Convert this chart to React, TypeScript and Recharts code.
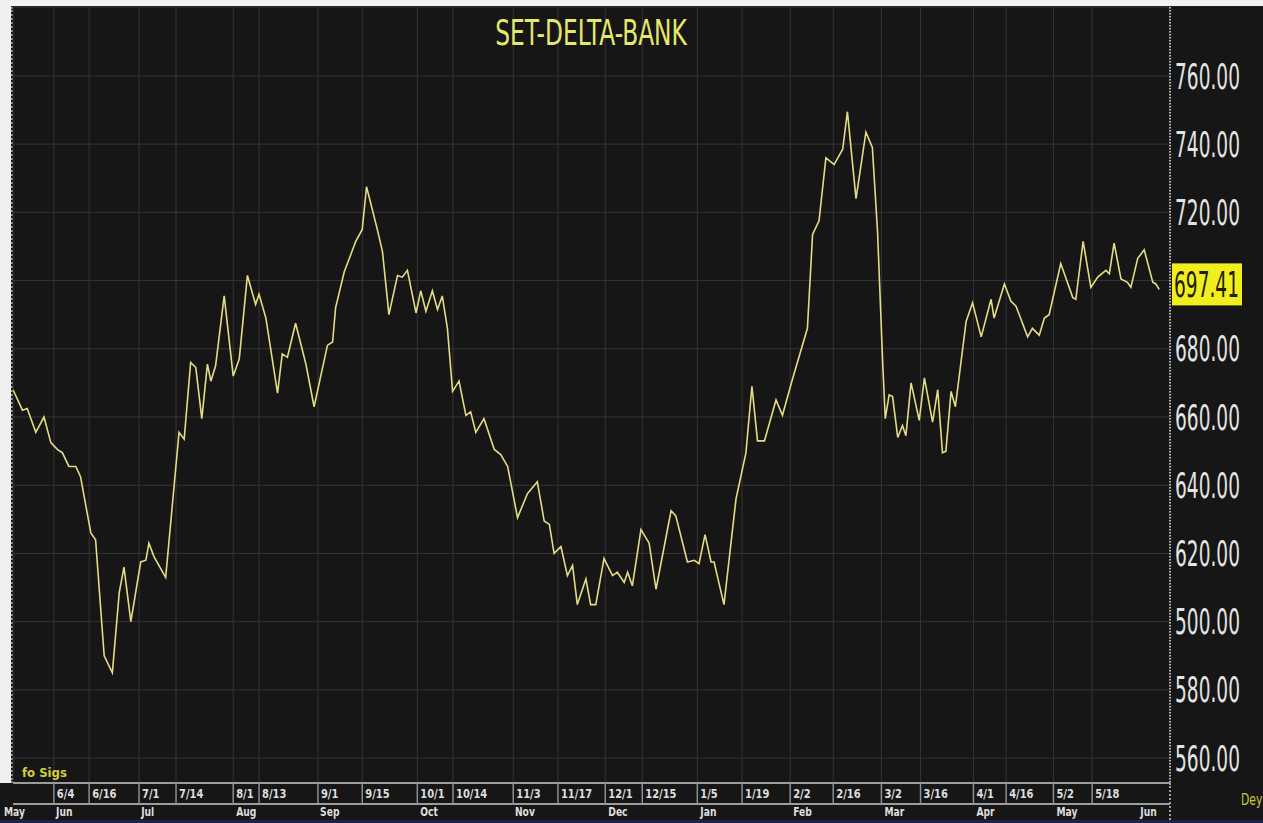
import { LineChart, Line, XAxis, YAxis, CartesianGrid, ReferenceDot } from 'recharts';

// trading-day index (from the left edge) and close
const DAYS = [
  0, 2.2, 3.3, 5.3, 7.2, 8.8, 10.3, 11.5, 13.0, 14.6, 15.7, 18.1, 19.2, 21.2, 23.1, 24.7, 25.8, 27.4, 29.7, 30.9,
  31.6, 32.8, 35.5, 38.6, 39.8, 41.3, 42.5, 43.9, 45.2, 46.0, 47.1, 49.1, 51.2, 52.6, 54.5, 56.4, 57.2, 58.8, 61.5, 62.6,
  63.8, 65.7, 68.1, 70.0, 73.1, 74.3, 75.0, 77.0, 79.7, 81.2, 82.2, 84.7, 85.9, 87.4, 89.4, 90.5, 91.7, 93.7, 94.8, 96.0,
  97.5, 98.7, 99.8, 101.0, 102.2, 103.7, 105.3, 106.4, 107.6, 109.5, 111.9, 113.4, 115.0, 117.3, 119.6, 121.9, 123.5, 124.7, 125.8, 127.4,
  128.9, 130.1, 131.2, 133.2, 134.3, 135.5, 137.4, 139.4, 140.5, 142.1, 142.9, 144.0, 146.0, 147.9, 149.5, 153.0, 154.1, 156.8, 158.4, 159.5,
  160.9, 162.3, 163.0, 165.3, 168.1, 170.4, 171.8, 173.1, 174.7, 177.4, 178.9, 181.2, 184.7, 185.9, 187.4, 189.0, 190.9, 192.9, 194.0, 196.0,
  198.3, 199.8, 201.0, 202.2, 202.8, 203.7, 204.5, 205.7, 206.8, 207.6, 208.8, 210.7, 211.9, 213.8, 215.0, 216.1, 216.9, 218.1, 219.1, 221.6,
  223.1, 225.1, 227.4, 228.1, 230.5, 232.0, 233.2, 235.9, 237.0, 238.6, 239.8, 240.9, 243.6, 246.4, 247.1, 248.8, 250.6, 252.2, 254.1, 254.9,
  256.0, 257.6, 259.1, 259.9, 261.5, 263.0, 265.0, 265.7, 266.5,
];
const CLOSE = [
  668, 662, 662.5, 655.5, 660, 652.5, 650.5, 649.5, 645.5, 645.5, 642.5, 626, 624, 590, 585, 608.5, 616, 600, 617.5, 618,
  623, 619, 613, 655.5, 653.5, 676, 674.5, 659.5, 675.5, 670.5, 675, 695.5, 672, 677, 701.5, 693, 696, 689, 667, 678.5,
  677.5, 687.5, 675.5, 663, 681, 682, 692, 702.5, 711.5, 715, 727.5, 715, 708.5, 690, 701.5, 701, 703, 690.5, 697, 691,
  697, 691.5, 695.5, 686, 667.5, 670.5, 660.5, 661.5, 655.5, 659.5, 650.5, 649, 645.5, 630.5, 637.5, 641, 629.5, 628.5, 620, 622,
  613.5, 616.5, 605, 612.5, 605, 605, 618.5, 613.5, 614.5, 611.5, 614.5, 610.5, 627, 623, 609.5, 632.5, 631, 617.5, 618, 617,
  625.5, 617.5, 617.5, 605, 636, 649.5, 669, 653, 653, 665, 660.5, 671, 686, 713.5, 717.5, 736, 734, 738.5, 749.5, 724,
  743.5, 739, 714.5, 676, 659.5, 666.5, 666, 654, 657.5, 654.5, 670, 659, 671.5, 658.5, 668, 649.5, 650, 667.5, 663, 688,
  693.5, 683.5, 694.5, 689, 699, 694, 692.5, 683.5, 686, 684, 689, 690, 705, 695, 694.5, 711.5, 698, 701, 703, 702,
  711, 700.5, 699.5, 698, 706.5, 709, 699.5, 699, 697.41,
];
const LAST_CLOSE = 697.41;
const X_END = 269;

const TICK_DAYS = [
  9.5, 17.7, 29.3, 37.9, 51.2, 57.2, 70.9, 81.2, 94.0, 102.3, 116.3, 126.7,
  137.7, 146.3, 159.1, 169.5, 180.7, 190.7, 201.9, 211.0, 223.3, 230.9, 241.9, 250.9,
];
const TICK_LABELS = [
  '6/4', '6/16', '7/1', '7/14', '8/1', '8/13', '9/1', '9/15', '10/1', '10/14', '11/3', '11/17',
  '12/1', '12/15', '1/5', '1/19', '2/2', '2/16', '3/2', '3/16', '4/1', '4/16', '5/2', '5/18',
];
const MONTH_DAYS = [0, 9.3, 29.1, 51.2, 70.7, 94.0, 116.0, 137.7, 159.1, 180.7, 201.9, 223.3, 241.9, 261.4];
const MONTH_LABELS = ['May', 'Jun', 'Jul', 'Aug', 'Sep', 'Oct', 'Nov', 'Dec', 'Jan', 'Feb', 'Mar', 'Apr', 'May', 'Jun'];

const PRICE_TICKS = [560, 580, 600, 620, 640, 660, 680, 700, 720, 740, 760];
const PRICE_LABELS = ['560.00', '580.00', '500.00', '620.00', '640.00', '660.00', '680.00', '', '720.00', '740.00', '760.00'];

const data = DAYS.map((d, i) => ({ d, close: CLOSE[i] }));

const NARROW = "'Liberation Sans Narrow', 'DejaVu Sans Condensed', Arial, sans-serif";
const LINE = '#e4dc82';
const GRID = '#353535';

function DateTick({ x, y, index }: any) {
  return (
    <g>
      <line x1={x} x2={x} y1={y} y2={y + 21} stroke="#8e8e8e" strokeWidth={1.5} />
      <text
        transform={`translate(${x + 3},${y + 15}) scale(0.85,1)`}
        fontFamily={NARROW}
        fontSize={13}
        fontWeight="bold"
        fill="#dedede"
      >
        {TICK_LABELS[index]}
      </text>
    </g>
  );
}

function MonthTick({ x, y, index }: any) {
  const tx = index === 0 ? x - 9 : x + 3;
  return (
    <text
      transform={`translate(${tx},${y + 12}) scale(0.85,1)`}
      fontFamily={NARROW}
      fontSize={12}
      fontWeight="bold"
      fill="#dedede"
    >
      {MONTH_LABELS[index]}
    </text>
  );
}

// tall, condensed price labels: small font stretched vertically, fixed width
function PriceText({ x, y, label, fill }: any) {
  return (
    <text
      transform={`translate(${x},${y}) scale(1,1.4)`}
      dy="0.36em"
      textLength={65}
      lengthAdjust="spacingAndGlyphs"
      fontFamily={NARROW}
      fontSize={25}
      fill={fill}
    >
      {label}
    </text>
  );
}

function PriceTick({ x, y, index }: any) {
  const label = PRICE_LABELS[index];
  if (!label) return null;
  return <PriceText x={x} y={y} label={label} fill="#e4e4e4" />;
}

function LastTag({ cx, cy }: any) {
  return (
    <g>
      <rect x={cx + 2} y={cy - 26} width={70} height={42} fill="#f2ee1e" />
      <PriceText x={cx + 4} y={cy - 5} label={LAST_CLOSE.toFixed(2)} fill="#1e1e00" />
    </g>
  );
}

const abs = (s: any): any => ({ position: 'absolute', ...s });

export default function App() {
  return (
    <div style={abs({ left: 0, top: 0, width: 1263, height: 823, background: '#161616', overflow: 'hidden' })}>
      <div style={abs({ left: 0, top: 0, width: 1263, height: 6, background: '#f2f2f2' })} />
      <div style={abs({ left: 0, top: 6, width: 1263, height: 1, background: '#1c2340' })} />
      <div style={abs({ left: 0, top: 0, width: 11, height: 783, background: '#efefef' })} />
      <div style={abs({ left: 11, top: 7, height: 776, borderLeft: '2px dotted #a0a0a0' })} />
      <div style={abs({ left: 1169, top: 783, height: 40, borderLeft: '2px dotted #a0a0a0' })} />
      <div style={abs({ left: 0, top: 820, width: 1263, height: 3, background: '#1b2150' })} />

      <LineChart
        width={1263}
        height={823}
        data={data}
        margin={{ top: 7, right: 0, bottom: 3, left: 13 }}
        style={{ position: 'absolute', left: 0, top: 0 }}
      >
        <CartesianGrid xAxisId="a-dates" yAxisId="v" stroke={GRID} strokeWidth={1} />
        <XAxis
          xAxisId="a-dates"
          dataKey="d"
          type="number"
          domain={[0, X_END]}
          ticks={TICK_DAYS}
          interval={0}
          height={21}
          tickSize={0}
          tickMargin={0}
          tickLine={false}
          axisLine={{ stroke: '#9c9c9c', strokeWidth: 2 }}
          tick={(p: any) => <DateTick {...p} />}
          allowDataOverflow
        />
        <XAxis
          xAxisId="b-months"
          dataKey="d"
          type="number"
          domain={[0, X_END]}
          ticks={MONTH_DAYS}
          interval={0}
          height={16}
          tickSize={0}
          tickMargin={0}
          tickLine={false}
          axisLine={{ stroke: '#9c9c9c', strokeWidth: 2 }}
          tick={(p: any) => <MonthTick {...p} />}
          allowDataOverflow
        />
        <YAxis
          yAxisId="v"
          orientation="right"
          width={93}
          domain={[552.7, 780.2]}
          ticks={PRICE_TICKS}
          interval={0}
          tickSize={0}
          tickMargin={5}
          tickLine={false}
          axisLine={{ stroke: '#b4b4b4', strokeWidth: 2, strokeDasharray: '1.5 1.5' }}
          tick={(p: any) => <PriceTick {...p} />}
          allowDataOverflow
        />
        <Line
          xAxisId="a-dates"
          yAxisId="v"
          type="linear"
          dataKey="close"
          stroke={LINE}
          strokeWidth={1.6}
          dot={false}
          isAnimationActive={false}
        />
        <ReferenceDot
          xAxisId="a-dates"
          yAxisId="v"
          x={X_END}
          y={LAST_CLOSE}
          shape={(p: any) => <LastTag {...p} />}
        />
      </LineChart>

      <div
        style={abs({
          left: 591,
          top: 15.5,
          fontFamily: NARROW,
          fontSize: 35,
          lineHeight: '35px',
          color: '#e6e86c',
          whiteSpace: 'nowrap',
          transform: 'translateX(-50%) scaleX(0.74)',
        })}
      >
        SET-DELTA-BANK
      </div>
      <div style={abs({ left: 22, top: 765, fontFamily: NARROW, fontSize: 13, fontWeight: 'bold', color: '#cfcf3a', lineHeight: '15px' })}>
        fo Sigs
      </div>
      <div
        style={abs({
          left: 1241,
          top: 792,
          fontFamily: NARROW,
          fontSize: 15,
          color: '#c9c935',
          lineHeight: '16px',
          transform: 'scaleX(0.8)',
          transformOrigin: 'left top',
        })}
      >
        Dey
      </div>
    </div>
  );
}
